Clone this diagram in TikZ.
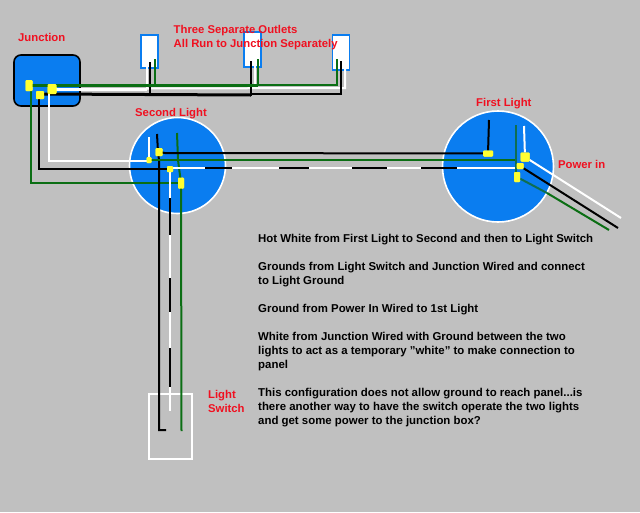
\documentclass[tikz,border=0pt]{standalone}
\usepackage{fontspec}
\setmainfont{Liberation Sans}
\definecolor{bgg}{HTML}{C0C0C0}
\definecolor{bl}{HTML}{0A7DF0}
\definecolor{gw}{HTML}{0B6E14}
\definecolor{gd}{HTML}{0F6E50}
\definecolor{ry}{HTML}{F01020}
\definecolor{yl}{HTML}{FFFF30}
\tikzset{x=1pt,y=-1pt,
 wire/.style={line width=2pt,line join=miter},
 blk/.style={wire,black},
 wht/.style={wire,white},
 grn/.style={wire,gw},
 term/.style={fill=yl,draw=none,inner sep=0pt,rounded corners=1pt,minimum width=#1},
 lamp/.style={circle,draw=white,line width=1.6pt,fill=bl,inner sep=0pt},
 outlet/.style={draw=bl,line width=1.6pt,fill=white,inner sep=0pt},
 redl/.style={text=ry,font=\fontsize{11.3}{14}\selectfont\bfseries,anchor=west,inner sep=0pt,align=left},
 note/.style={text=black,font=\fontsize{11.42}{14}\selectfont\bfseries,anchor=north west,inner sep=0pt,align=left}}
\begin{document}
\begin{tikzpicture}
\useasboundingbox (0,0) rectangle (640,512);
\fill[bgg] (0,0) rectangle (640,512);
% boxes
\node[draw=black,line width=1.6pt,fill=bl,rounded corners=7pt,minimum width=66pt,minimum height=51pt,inner sep=0pt] (junction) at (47,80.5) {};
\node[outlet,minimum width=17pt,minimum height=33pt] (out1) at (149.5,51.5) {};
\node[outlet,minimum width=17pt,minimum height=35pt] (out2) at (252.5,49.5) {};
\node[outlet,minimum width=17pt,minimum height=35pt] (out3) at (341,52.5) {};
\node[lamp,minimum size=96pt] (second) at (177.5,165.5) {};
\node[lamp,minimum size=111pt] (first) at (498,166.5) {};
\node[draw=white,line width=1.6pt,minimum width=43pt,minimum height=65pt,inner sep=0pt] (switch) at (170.5,426.5) {};
% free ends
\coordinate (p1) at (621,218);
\coordinate (p2) at (618,228);
\coordinate (p3) at (609,230);
% terminals
\node[term=7pt,minimum height=11pt] (tg) at (29,85.5) {};
\node[term=8pt,minimum height=8pt] (tk) at (40,95) {};
\node[term=9pt,minimum height=10pt] (tw) at (52,89) {};
\node[term=5pt,minimum height=6pt] (s1) at (149,160) {};
\node[term=7pt,minimum height=8pt] (s2) at (159,152) {};
\node[term=6pt,minimum height=6pt] (s3) at (170,169) {};
\node[term=6pt,minimum height=11pt] (s4) at (181,183) {};
\node[term=10pt,minimum height=6pt] (f1) at (488,153.5) {};
\node[term=9pt,minimum height=9pt] (f2) at (525,157) {};
\node[term=7pt,minimum height=6pt] (f3) at (520,166) {};
\node[term=6pt,minimum height=10pt] (f4) at (517,177) {};
% outlet white
\draw[wire,white,line width=3pt] (52,89) -- (147,89);
\draw[wht] (147,88.5) -- (345,88) -- (345,68);
\draw[wht] (147,89) -- (147,65);
\draw[wht] (255,89) -- (255,65);
% outlet black
\draw[blk,line width=3pt] (40,94) -- (251,95);
\draw[blk] (150,95) -- (150,62);
\draw[blk] (251,96) -- (251,61);
\draw[blk] (251,94) -- (341,94) -- (341,61);
% outlet green
\draw[line width=3pt,gw] (29,85) -- (258,85);
\draw[grn] (155,85) -- (155,59);
\draw[grn] (258,86) -- (258,59);
\draw[grn] (258,85) -- (337,85) -- (337,59);
% junction to second light
\draw[grn] (31,85) -- (31,183) -- (178,183);
\draw[blk] (39,95) -- (39,169) -- (170,169);
\draw[wht] (49,89) -- (49,161) -- (149,161);
% second light internals
\draw[wht] (149,137) -- (s1);
\draw[blk] (157,134) -- (158,152) -- (159,160) -- (159,430) -- (166,430);
\draw[grn] (177,133) -- (178,160) -- (181,183) -- (181.5,431);
% hot run down
\draw[wht] (170,169) -- (170,198);
\draw[blk] (170,198) -- (170,235);
\draw[wht] (170,235) -- (170,278);
\draw[blk] (170,278) -- (170,312);
\draw[wht] (170,312) -- (170,348);
\draw[blk] (169.5,348) -- (169.5,387);
\draw[wht] (170,387) -- (170,411);
% run between lights
\draw[blk] (159,152) -- (165,153) -- (f1);
\draw[grn] (149,160) -- (516,160);
\draw[wht] (170,168) -- (205,168);
\draw[blk] (205,168) -- (232,168);
\draw[wht] (232,168) -- (279,168);
\draw[blk] (279,168) -- (309,168);
\draw[wht] (309,168) -- (352,168);
\draw[blk] (352,168) -- (387,168);
\draw[wht] (387,168) -- (421,168);
\draw[blk] (421,168) -- (457,168);
\draw[wht] (457,168) -- (515,168);
% first light internals
\draw[blk] (489,120) -- (f1);
\draw[wire,gd] (516,125) -- (516,177);
\draw[wht] (524,126) -- (f2);
\draw[wht] (f2) -- (p1);
\draw[blk] (f3) -- (p2);
\draw[wire,gd] (f4) -- (547,193);
\draw[grn] (547,193) -- (p3);
% terminals on top
\foreach \n/\w/\h in {tg/7/11,tk/8/8,tw/9/10,s1/5/6,s2/7/8,s3/6/6,s4/6/11,f1/10/6,f2/9/9,f3/7/6,f4/6/10}
  \node[term=\w pt,minimum height=\h pt] at (\n) {};
% labels
\node[redl] (ljunction) at (18,37) {Junction};
\node[redl] (loutlets) at (173.5,37.5) {Three Separate Outlets\\All Run to Junction Separately};
\node[redl] (lsecond) at (135,113.5) {Second Light};
\node[redl] (lfirst) at (476,103.5) {First Light};
\node[redl] (lpower) at (558,164) {Power in};
\node[redl] (lswitch) at (208,401.5) {Light\\Switch};
\node[note] (n1) at (258,234.5) {Hot White from First Light to Second and then to Light Switch};
\node[note] (n2) at (258,262.5) {Grounds from Light Switch and Junction Wired and connect\\to Light Ground};
\node[note] (n3) at (258,304.5) {Ground from Power In Wired to 1st Light};
\node[note] (n4) at (258,332.5) {White from Junction Wired with Ground between the two\\lights to act as a temporary "white" to make connection to\\panel};
\node[note] (n5) at (258,388.5) {This configuration does not allow ground to reach panel...is\\there another way to have the switch operate the two lights\\and get some power to the junction box?};
\end{tikzpicture}
\end{document}
